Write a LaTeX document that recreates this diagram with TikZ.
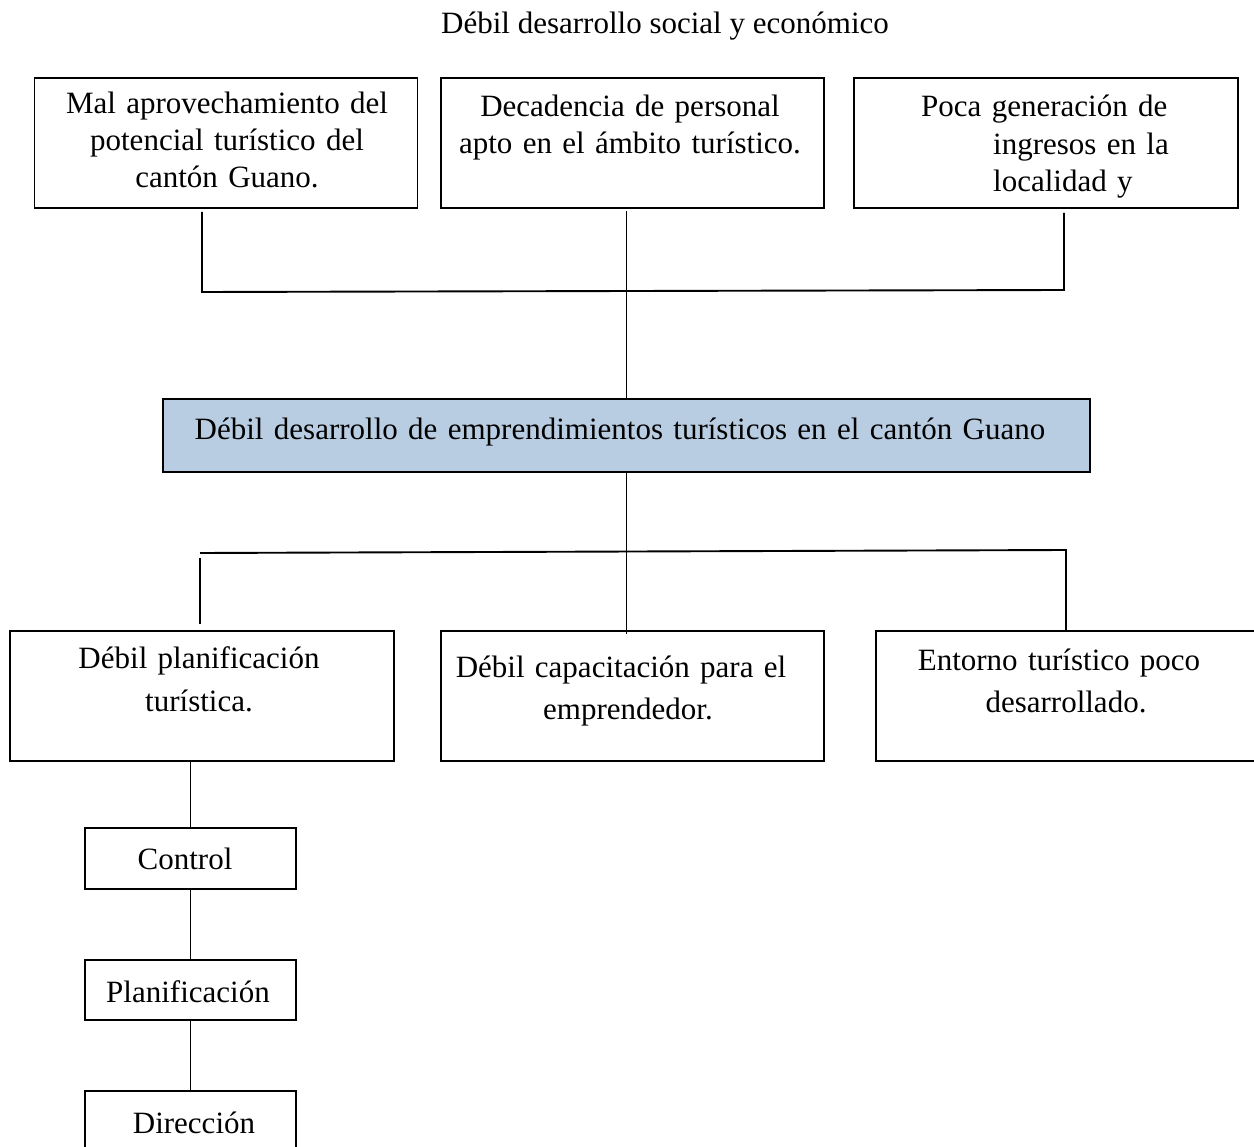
\documentclass[tikz,border=0pt]{standalone}
\usepackage{fontspec}
\setmainfont{Liberation Serif}
\definecolor{guanoblue}{RGB}{185,205,226}

\begin{document}
\begin{tikzpicture}[x=1pt, y=-1pt,
  box/.style={draw, line width=1.9pt, inner sep=0pt},
  txt/.style={font=\fontsize{31}{37}\selectfont, align=center, anchor=base, inner sep=0pt},
  link/.style={line width=1.9pt}]
\useasboundingbox (0,0) rectangle (1254,1147);

\node[txt] (title) at (665,34) {Débil desarrollo social y económico};

\node[box, minimum width=383pt, minimum height=130pt] (a1) at (226,143) {};
\node[box, minimum width=383pt, minimum height=130pt] (a2) at (632.5,143) {};
\node[box, minimum width=384pt, minimum height=130pt] (a3) at (1046,143) {};
\node[txt, text width=370pt] (a1t) at (227,114) {Mal aprovechamiento del\\potencial turístico del\\cantón Guano.};
\node[txt, text width=370pt] (a2t) at (630,117) {Decadencia de personal\\apto en el ámbito turístico.};
\node[txt, anchor=base west, align=left, text width=300pt, font=\fontsize{31}{37.5}\selectfont] (a3t) at (921,117) {Poca generación de\\\hspace*{72pt}ingresos en la\\\hspace*{72pt}localidad y};

\node[box, fill=guanoblue, minimum width=927pt, minimum height=73pt] (c) at (626.5,435.5) {};
\node[txt, text width=900pt] (ct) at (620,440) {Débil desarrollo de emprendimientos turísticos en el cantón Guano};

\node[box, minimum width=384pt, minimum height=130pt] (b1) at (202,696) {};
\node[box, minimum width=383pt, minimum height=130pt] (b2) at (632.5,696) {};
\node[box, minimum width=384pt, minimum height=130pt] (b3) at (1068,696) {};
\node[txt, text width=370pt, font=\fontsize{31}{43}\selectfont] (b1t) at (199,668) {Débil planificación\\turística.};
\node[txt, text width=370pt, font=\fontsize{31}{42}\selectfont] (b2t) at (628,677) {Débil capacitación para el\rule{14pt}{0pt}\\emprendedor.};
\node[txt, text width=370pt, font=\fontsize{31}{43}\selectfont] (b3t) at (1066,670) {Entorno turístico poco\rule{14pt}{0pt}\\desarrollado.};

\node[box, minimum width=211pt, minimum height=61pt] (d1) at (190.5,858.5) {};
\node[box, minimum width=211pt, minimum height=60pt] (d2) at (190.5,990) {};
\node[box, minimum width=211pt, minimum height=69pt] (d3) at (190.5,1125.5) {};
\node[txt] (d1t) at (185,869) {Control};
\node[txt] (d2t) at (188,1002) {Planificación};
\node[txt] (d3t) at (194,1133) {Dirección};

\coordinate (ul) at (202,292);
\coordinate (ur) at (1064,290);
\draw[link] ([yshift=-3pt]a1.south -| ul) -- (ul) -- (ur) -- ([yshift=-4pt]a3.south -| ur);
\draw[link] ([yshift=-2pt]a2.south -| c.north) -- (c.north);

\coordinate (ll) at (200,553);
\coordinate (lr) at (1066,550);
\draw[link] (c.south) -- ([yshift=-4pt]b2.north -| c.south);
\draw[link] (ll) -- (lr) -- (lr |- b3.north);
\draw[link] ([yshift=-5pt]ll) -- ([yshift=6pt]b1.north -| ll);

\draw[link] (b1.south -| d1.north) -- (d1.north);
\draw[link] (d1) -- (d2);
\draw[link] (d2) -- (d3);
\end{tikzpicture}
\end{document}
